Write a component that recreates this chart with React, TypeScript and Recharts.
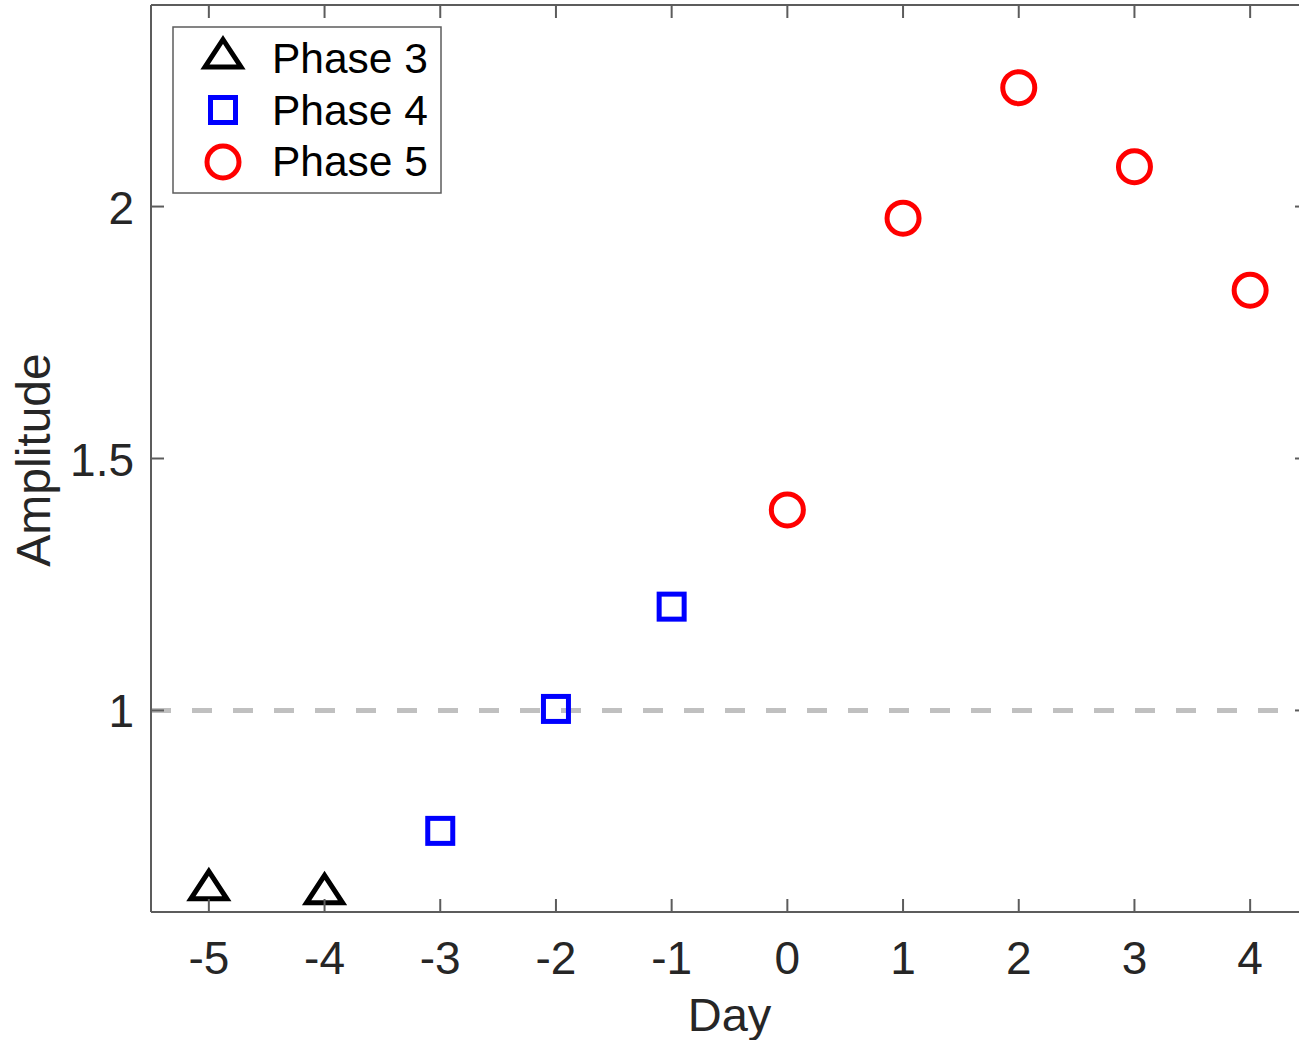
import React from 'react';
import { ComposedChart, Scatter, XAxis, YAxis, ReferenceLine, Legend } from 'recharts';

const dayTicks = [-5, -4, -3, -2, -1, 0, 1, 2, 3, 4];
const ampTicks = [1, 1.5, 2];

const phase3Days = [-5, -4];
const phase3Amp = [0.654, 0.646];
const phase4Days = [-3, -2, -1];
const phase4Amp = [0.761, 1.003, 1.206];
const phase5Days = [0, 1, 2, 3, 4];
const phase5Amp = [1.398, 1.977, 2.236, 2.079, 1.834];

const seriesNames = ['Phase 3', 'Phase 4', 'Phase 5'];

const toPoints = (xs: number[], ys: number[]) => xs.map((x, i) => ({ day: x, amp: ys[i] }));
const phase3 = toPoints(phase3Days, phase3Amp);
const phase4 = toPoints(phase4Days, phase4Amp);
const phase5 = toPoints(phase5Days, phase5Amp);

const FONT = '"Liberation Sans", Arial, Helvetica, sans-serif';
const AXIS = '#5c5c5c';
const TEXT = '#262626';

// layout constants (plot frame)
const CHART_W = 1320;
const CHART_H = 1040;
const M_TOP = 4;
const M_RIGHT = 11;
const X_AXIS_H = 128;
const Y_AXIS_W = 151;
const TOP_AXIS_H = 1;
const RIGHT_AXIS_W = 1;
const PLOT_TOP = M_TOP + TOP_AXIS_H;
const PLOT_BOTTOM = CHART_H - X_AXIS_H;
const PLOT_LEFT = Y_AXIS_W;
const PLOT_RIGHT = CHART_W - M_RIGHT - RIGHT_AXIS_W;
const TICK_LEN = 13;

const Triangle = ({ cx, cy }: any) => (
  <path
    d={`M${cx},${cy - 13.5} L${cx + 18},${cy + 14} L${cx - 18},${cy + 14} Z`}
    fill="none"
    stroke="#000"
    strokeWidth={5}
    strokeLinejoin="miter"
  />
);
const Square = ({ cx, cy }: any) => (
  <rect x={cx - 12.5} y={cy - 12.5} width={25} height={25} fill="none" stroke="#0000ff" strokeWidth={5} />
);
const Circle = ({ cx, cy }: any) => (
  <circle cx={cx} cy={cy} r={16} fill="none" stroke="#ff0000" strokeWidth={5} />
);

// bottom tick also draws the matching inward tick on the top frame edge
const BottomTick = ({ x, payload }: any) => (
  <g>
    <line x1={x} x2={x} y1={PLOT_BOTTOM} y2={PLOT_BOTTOM - TICK_LEN} stroke={AXIS} strokeWidth={2} />
    <line x1={x} x2={x} y1={PLOT_TOP} y2={PLOT_TOP + TICK_LEN} stroke={AXIS} strokeWidth={2} />
    <text x={x} y={PLOT_BOTTOM + 62} textAnchor="middle" fontSize={46} fill={TEXT} fontFamily={FONT}>
      {payload.value}
    </text>
  </g>
);
// left tick also draws the matching inward tick on the right frame edge
const LeftTick = ({ y, payload }: any) => (
  <g>
    <line x1={PLOT_LEFT} x2={PLOT_LEFT + TICK_LEN} y1={y} y2={y} stroke={AXIS} strokeWidth={2} />
    <line x1={PLOT_RIGHT} x2={PLOT_RIGHT - TICK_LEN} y1={y} y2={y} stroke={AXIS} strokeWidth={2} />
    <text x={PLOT_LEFT - 17} y={y + 17} textAnchor="end" fontSize={46} fill={TEXT} fontFamily={FONT}>
      {payload.value}
    </text>
  </g>
);

const LegendBox = () => {
  const markers = [
    (cy: number) => <Triangle cx={51} cy={cy} />,
    (cy: number) => <Square cx={51} cy={cy} />,
    (cy: number) => <Circle cx={51} cy={cy} />,
  ];
  const rowMarkerY = [27, 84, 136];
  const rowBaseY = [47, 99, 150];
  return (
    <svg width={270} height={168} style={{ display: 'block' }}>
      <rect x={1} y={1} width={268} height={166} fill="#fff" stroke={AXIS} strokeWidth={1.5} />
      {seriesNames.map((name, i) => (
        <g key={name}>
          {markers[i](rowMarkerY[i])}
          <text x={100} y={rowBaseY[i]} fontSize={42.5} fill="#000" fontFamily={FONT}>
            {name}
          </text>
        </g>
      ))}
    </svg>
  );
};

export default function App() {
  return (
    <div style={{ position: 'absolute', left: 0, top: 0, width: 1299, height: 1040, overflow: 'hidden', background: '#fff' }}>
      <ComposedChart width={CHART_W} height={CHART_H} margin={{ top: M_TOP, right: M_RIGHT, bottom: 0, left: 0 }}>
        <XAxis
          xAxisId="x"
          dataKey="day"
          type="number"
          domain={[-5.5, 4.5]}
          ticks={dayTicks}
          allowDataOverflow
          height={X_AXIS_H}
          tickLine={false}
          axisLine={{ stroke: AXIS, strokeWidth: 2 }}
          tick={<BottomTick />}
          interval={0}
          label={{ value: 'Day', position: 'insideBottom', offset: 9, fontSize: 47, fill: TEXT, fontFamily: FONT }}
        />
        <XAxis
          xAxisId="top"
          orientation="top"
          type="number"
          domain={[-5.5, 4.5]}
          allowDataOverflow
          height={TOP_AXIS_H}
          tickLine={false}
          tick={false}
          axisLine={{ stroke: AXIS, strokeWidth: 2 }}
        />
        <YAxis
          yAxisId="y"
          dataKey="amp"
          type="number"
          domain={[0.6, 2.4]}
          ticks={ampTicks}
          allowDataOverflow
          width={Y_AXIS_W}
          tickLine={false}
          axisLine={{ stroke: AXIS, strokeWidth: 2 }}
          tick={<LeftTick />}
          interval={0}
          label={{
            content: () => (
              <text
                x={50}
                y={460}
                transform="rotate(-90 50 460)"
                textAnchor="middle"
                fontSize={48}
                fill={TEXT}
                fontFamily={FONT}
              >
                Amplitude
              </text>
            ),
          }}
        />
        <YAxis
          yAxisId="right"
          orientation="right"
          type="number"
          domain={[0.6, 2.4]}
          allowDataOverflow
          width={RIGHT_AXIS_W}
          tickLine={false}
          tick={false}
          axisLine={{ stroke: AXIS, strokeWidth: 2 }}
        />
        <ReferenceLine
          xAxisId="x"
          yAxisId="y"
          y={1}
          stroke="#c0c0c0"
          strokeWidth={5}
          strokeDasharray="20 21"
        />
        <Scatter name={seriesNames[0]} data={phase3} xAxisId="x" yAxisId="y" shape={<Triangle />} isAnimationActive={false} />
        <Scatter name={seriesNames[1]} data={phase4} xAxisId="x" yAxisId="y" shape={<Square />} isAnimationActive={false} />
        <Scatter name={seriesNames[2]} data={phase5} xAxisId="x" yAxisId="y" shape={<Circle />} isAnimationActive={false} />
        <Legend
          layout="vertical"
          align="center"
          verticalAlign="middle"
          content={() => <LegendBox />}
          wrapperStyle={{ left: 172, top: 26, width: 270, height: 168 }}
        />
      </ComposedChart>
    </div>
  );
}
